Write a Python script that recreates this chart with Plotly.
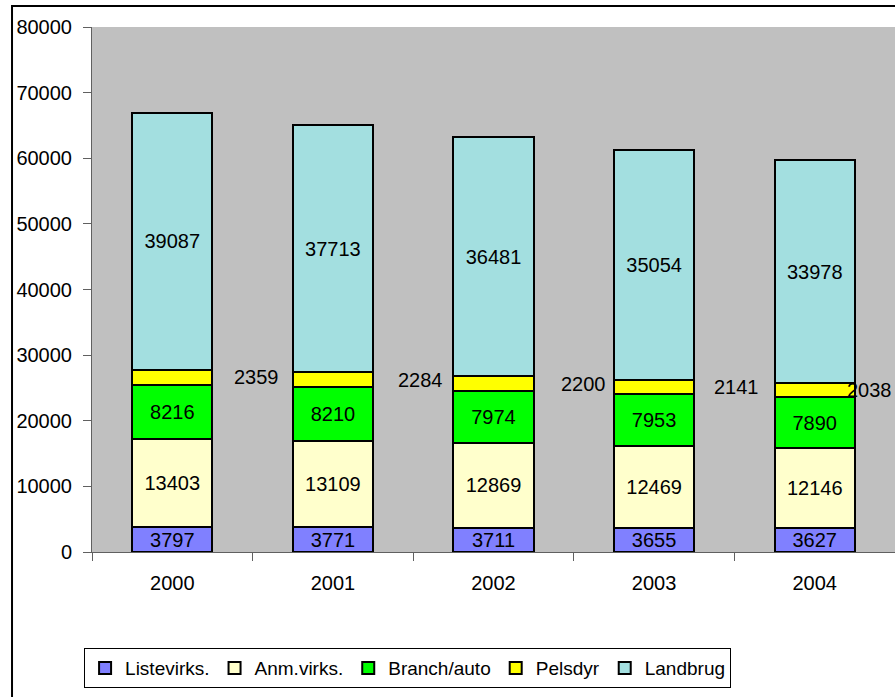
import plotly.graph_objects as go

years = ["2000", "2001", "2002", "2003", "2004"]
listevirks = [3797, 3771, 3711, 3655, 3627]
anmvirks = [13403, 13109, 12869, 12469, 12146]
branch_auto = [8216, 8210, 7974, 7953, 7890]
pelsdyr = [2359, 2284, 2200, 2141, 2038]
landbrug = [39087, 37713, 36481, 35054, 33978]

series_names = ["Listevirks.", "Anm.virks.", "Branch/auto", "Pelsdyr", "Landbrug"]
colors = ["#8080FF", "#FFFFCC", "#00FF00", "#FFFF00", "#A3DFE0"]
pels_label_shift = [84, 88, 90, 82, 55]

FONT = "Liberation Sans, Arial, sans-serif"
fig = go.Figure()
all_series = [listevirks, anmvirks, branch_auto, pelsdyr, landbrug]
for name, vals, col in zip(series_names, all_series, colors):
    show_text = name != "Pelsdyr"
    fig.add_trace(go.Bar(
        x=years, y=vals, name=name,
        marker=dict(color=col, line=dict(color="black", width=2)),
        text=[str(v) for v in vals] if show_text else None,
        textposition="inside" if show_text else "none",
        insidetextanchor="middle",
        textfont=dict(family=FONT, size=20, color="black"),
        constraintext="none",
        hoverinfo="skip",
    ))

# Pelsdyr labels beside the bars (category index positions)
for i, yr in enumerate(years):
    base = listevirks[i] + anmvirks[i] + branch_auto[i]
    fig.add_annotation(x=i, y=base + pelsdyr[i] / 2, text=str(pelsdyr[i]),
                       showarrow=False, xshift=pels_label_shift[i],
                       font=dict(family=FONT, size=20, color="black"))

# outer chart border
fig.add_shape(type="rect", xref="paper", yref="paper",
              x0=-0.0996, x1=1.2, y0=-0.6, y1=1.04,
              line=dict(color="black", width=2), fillcolor="rgba(0,0,0,0)", layer="below")

fig.update_layout(
    width=895, height=697,
    barmode="stack", bargap=0.5,
    plot_bgcolor="#C0C0C0", paper_bgcolor="white",
    margin=dict(l=92, r=0, t=27, b=145, autoexpand=False),
    font=dict(family=FONT, size=20, color="black"),
    uniformtext=dict(minsize=20, mode="show"),
    showlegend=True,
    legend=dict(orientation="h", x=0.393, xanchor="center", y=-0.183, yanchor="top",
                bordercolor="black", borderwidth=1, traceorder="normal",
                font=dict(family=FONT, size=19), itemwidth=30,
                tracegroupgap=0),
    xaxis=dict(type="category", range=[-0.5, 4.5], showline=True, linecolor="#606060", linewidth=1,
               ticks="outside", tickson="boundaries", ticklen=8, tickcolor="#606060",
               ticklabelstandoff=13, showgrid=False, fixedrange=True, automargin=False),
    yaxis=dict(range=[0, 80000], dtick=10000, tickformat="d", showline=True,
               linecolor="#606060", linewidth=1,
               ticks="outside", ticklen=8, tickcolor="#606060", showgrid=False,
               zeroline=False, ticklabelstandoff=7, fixedrange=True, automargin=False),
)

fig.write_html("out.html", config={"displayModeBar": False},
               post_script="document.body.style.margin='0';")
